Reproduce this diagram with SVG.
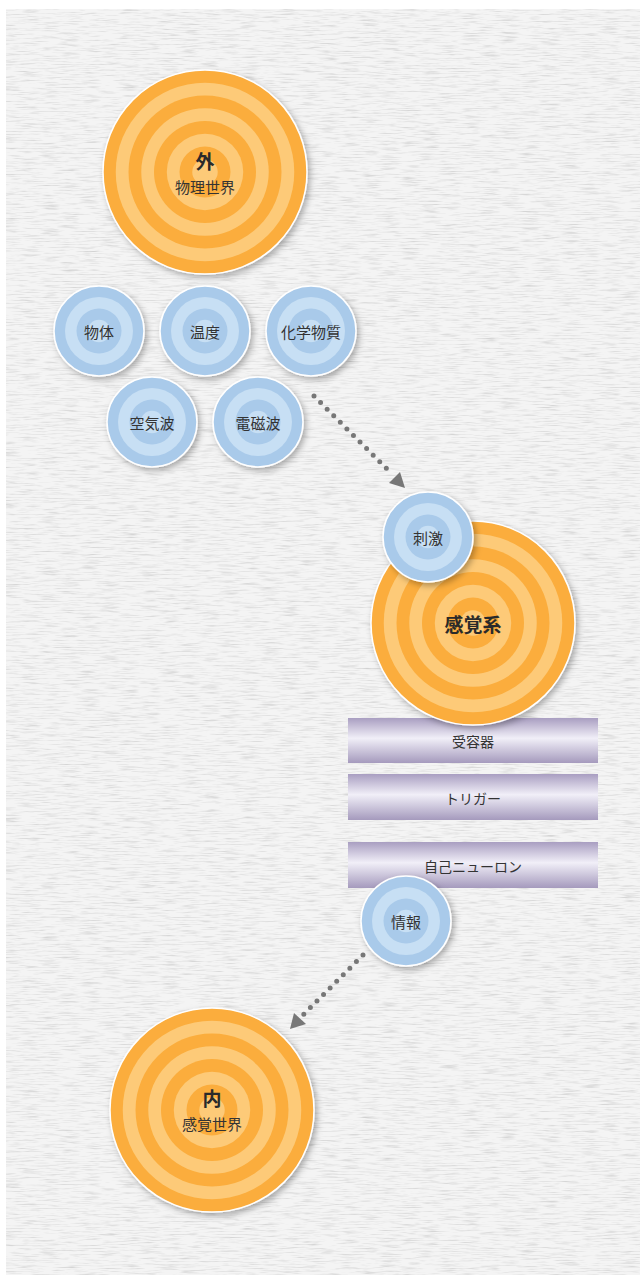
<svg xmlns="http://www.w3.org/2000/svg" width="640" height="1277" viewBox="0 0 640 1277">
<style>
.lbl{font-family:"Noto Sans CJK JP","Noto Sans",sans-serif;fill:#333;text-anchor:middle;dominant-baseline:central}
.big{font-weight:700;font-size:19px;fill:#2a2a2a}
.sub{font-size:15px}
.blue{font-size:15px}
.bar{font-size:14px}
.od{fill:#FBAD3D}.ol{fill:#FDCA78}
.bd{fill:#A9CAEA}.bl{fill:#C7DFF4}
.edge{fill:none;stroke:#fff;stroke-width:1.5}
.dots{fill:none;stroke:#777;stroke-width:5;stroke-linecap:round;stroke-dasharray:0 9.3}
</style>
<defs>
<filter id="tex" x="0" y="0" width="100%" height="100%">
<feTurbulence type="fractalNoise" baseFrequency="0.05 0.7" numOctaves="3" seed="7" result="n"/>
<feColorMatrix in="n" type="matrix" values="0 0 0 0 0.6  0 0 0 0 0.6  0 0 0 0 0.6  0 0 0 1.8 -0.85" result="g"/>
<feComposite in="g" in2="SourceGraphic" operator="over"/>
</filter>
<filter id="sh" x="-30%" y="-30%" width="160%" height="160%">
<feDropShadow dx="2.5" dy="3" stdDeviation="3" flood-color="#000" flood-opacity="0.3"/>
</filter>
<linearGradient id="barg" x1="0" y1="0" x2="0" y2="1">
<stop offset="0" stop-color="#A99EC1"/>
<stop offset="0.45" stop-color="#F1EFF8"/>
<stop offset="1" stop-color="#A59ABD"/>
</linearGradient>
<g id="orange">
<circle r="102" class="od"/>
<circle r="89.25" class="ol"/>
<circle r="76.5" class="od"/>
<circle r="63.75" class="ol"/>
<circle r="51" class="od"/>
<circle r="38.25" class="ol"/>
<circle r="25.5" class="od"/>
<circle r="12.75" class="ol"/>
<circle r="102" class="edge"/>
</g>
<g id="blue">
<circle r="45" class="bd"/>
<circle r="34" class="bl"/>
<circle r="22.5" class="bd"/>
<circle r="11.25" class="bl"/>
<circle r="45" class="edge"/>
</g>
</defs>
<rect width="640" height="1277" fill="#fff"/>
<rect x="6" y="9" width="634" height="1266" fill="#F4F4F4" filter="url(#tex)"/>

<g id="connectors">
<path class="dots" d="M314 396 L392 474"/>
<polygon points="405,488 389,483 400,472" fill="#777"/>
<path class="dots" d="M363 955 L303 1015"/>
<polygon points="290,1029 294,1013 306,1024" fill="#777"/>
</g>

<g id="outer-world">
<use href="#orange" x="205" y="172" filter="url(#sh)"/>
<text class="lbl big" x="205" y="160">外</text>
<text class="lbl sub" x="205" y="186">物理世界</text>
</g>
<g id="n-object"><use href="#blue" x="99" y="331" filter="url(#sh)"/><text class="lbl blue" x="99" y="331">物体</text></g>
<g id="n-temp"><use href="#blue" x="205" y="331" filter="url(#sh)"/><text class="lbl blue" x="205" y="331">温度</text></g>
<g id="n-chem"><use href="#blue" x="311" y="331" filter="url(#sh)"/><text class="lbl blue" x="311" y="331">化学物質</text></g>
<g id="n-air"><use href="#blue" x="152" y="422" filter="url(#sh)"/><text class="lbl blue" x="152" y="422">空気波</text></g>
<g id="n-em"><use href="#blue" x="258" y="422" filter="url(#sh)"/><text class="lbl blue" x="258" y="422">電磁波</text></g>

<g id="bar-receptor"><rect x="348" y="718" width="250" height="45" fill="url(#barg)"/><text class="lbl bar" x="473" y="741">受容器</text></g>
<g id="bar-trigger"><rect x="348" y="774" width="250" height="46" fill="url(#barg)"/><text class="lbl bar" x="473" y="798">トリガー</text></g>
<g id="bar-neuron"><rect x="348" y="842" width="250" height="46" fill="url(#barg)"/><text class="lbl bar" x="473" y="866">自己ニューロン</text></g>

<g id="sensory-system">
<use href="#orange" x="473" y="623" filter="url(#sh)"/>
<text class="lbl big" x="473" y="623">感覚系</text>
</g>
<g id="n-stimulus"><use href="#blue" x="428" y="537" filter="url(#sh)"/><text class="lbl blue" x="428" y="537">刺激</text></g>
<g id="n-info"><use href="#blue" x="406" y="921" filter="url(#sh)"/><text class="lbl blue" x="406" y="921">情報</text></g>

<g id="inner-world">
<use href="#orange" x="212" y="1110" filter="url(#sh)"/>
<text class="lbl big" x="212" y="1097">内</text>
<text class="lbl sub" x="212" y="1123">感覚世界</text>
</g>
</svg>
